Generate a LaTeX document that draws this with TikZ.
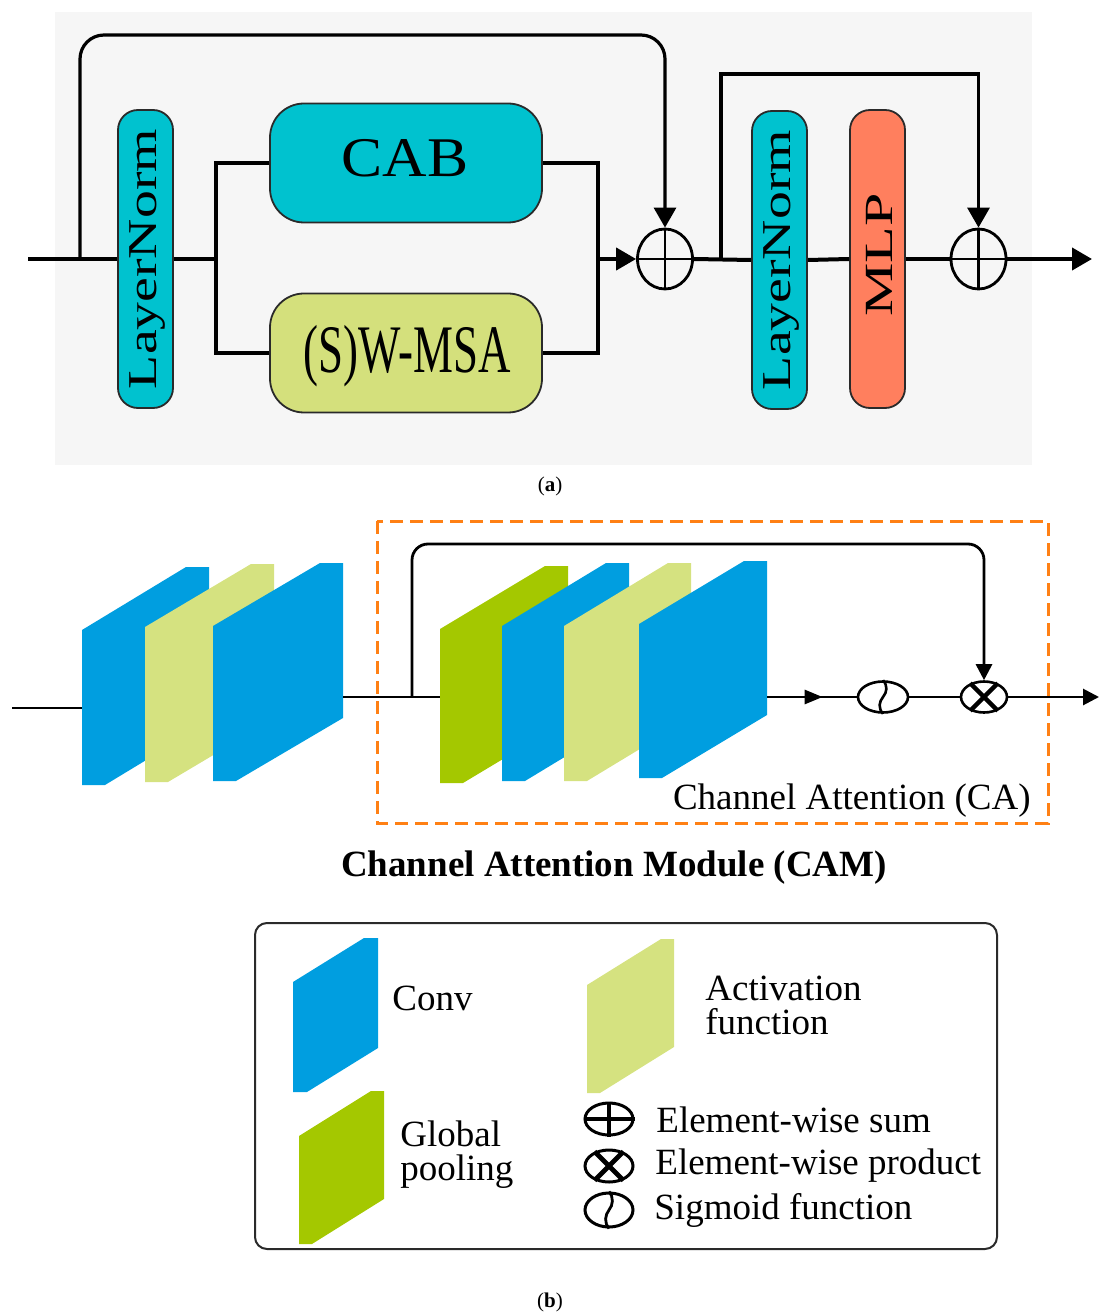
\documentclass[tikz,border=0pt]{standalone}
\usepackage{fontspec}
\usepackage{graphicx}
\setmainfont{Liberation Serif}
\usetikzlibrary{arrows.meta,shapes.geometric,decorations.markings}
\definecolor{bga}{HTML}{F6F6F6}
\definecolor{cyanbox}{HTML}{00C2CF}
\definecolor{msacol}{HTML}{D4E07C}
\definecolor{mlpcol}{HTML}{FF7F5E}
\definecolor{boxline}{HTML}{2A2A2A}
\definecolor{bluep}{HTML}{009EE0}
\definecolor{lgreenp}{HTML}{D5E280}
\definecolor{greenp}{HTML}{A4C800}
\definecolor{orangeb}{HTML}{FF8014}
\newcommand{\mypanel}[7]{\fill[#1] (#2,#4+#6) -- (#3-#7,#4) -- (#3,#4) -- (#3,#5-#6) -- (#2+#7,#5) -- (#2,#5) -- cycle;}
\tikzset{
  lnbox/.style={draw=boxline,line width=0.9pt,fill=cyanbox,rounded corners=10pt,minimum width=27.5pt,minimum height=149pt,inner sep=0pt},
  bigbox/.style={draw=boxline,line width=0.9pt,rounded corners=17pt,minimum width=136pt,minimum height=59.5pt,inner sep=0pt},
  sumnode/.style={draw=black,ellipse,line width=1.4pt,minimum width=27.5pt,minimum height=30pt,inner sep=0pt},
  mainln/.style={line width=2pt,draw=black,line join=miter},
  skipln/.style={line width=1.6pt,draw=black},
  arr/.style={-{Triangle[length=10pt,width=11pt]}},
  bln/.style={line width=1.4pt,draw=black},
  arrb/.style={-{Triangle[length=8pt,width=8pt]}},
  midarrow/.style={postaction={decorate},decoration={markings,mark=at position 0.62 with {\arrow{Triangle[length=9pt,width=7pt]}}}},
  opnode/.style={draw=black,ellipse,line width=1.3pt,inner sep=0pt},
  legtxt/.style={font=\fontsize{18.5}{17}\selectfont,anchor=west,align=left,inner sep=0pt},
}
\begin{document}
\begin{tikzpicture}[x=0.5pt,y=-0.5pt]
\useasboundingbox (0,0) rectangle (1100,1315);
% ---------------- (a) ----------------
\fill[bga] (55,12) rectangle (1032,465);
\node[lnbox] (ln1) at (145.5,259) {};
\node[bigbox,fill=cyanbox] (cab) at (406,163) {};
\node[bigbox,fill=msacol] (msa) at (406,353) {};
\node[sumnode] (sum1) at (665,259) {};
\node[lnbox] (ln2) at (779.5,260) {};
\node[lnbox,fill=mlpcol] (mlp) at (877.5,259) {};
\node[sumnode] (sum2) at (978.5,259) {};
\node[rotate=90,font=\fontsize{20.5}{22}\selectfont] (ln1t) at (147,259) {\scalebox{1.36}[1]{LayerNorm}};
\node[rotate=90,font=\fontsize{20.5}{22}\selectfont] (ln2t) at (781,260) {\scalebox{1.36}[1]{LayerNorm}};
\node[rotate=90,font=\fontsize{20}{22}\selectfont] (mlpt) at (879,255) {\scalebox{1.5}[1]{MLP}};
\node[font=\fontsize{28}{30}\selectfont] (cabt) at (405,158) {\scalebox{1.1}[1]{CAB}};
\node[font=\fontsize{34}{36}\selectfont] (msat) at (407,356) {\scalebox{0.66}[1]{(S)W-MSA}};
\coordinate (ain) at (28,259);
\coordinate (j1) at (80,259);
\coordinate (j2) at (216,259);
\coordinate (j3) at (598,259);
\coordinate (j4) at (721,259);
\coordinate (aout) at (1092,259);
\coordinate (top1) at (0,35);
\coordinate (top2) at (0,74);
\draw[mainln] (ain) -- (ln1.west);
\draw[mainln] (ln1.east) -- (j2);
\draw[mainln] (cab.west) -| (j2) |- (msa.west);
\draw[mainln] (cab.east) -| (j3) |- (msa.east);
\draw[mainln,arr] (j3) -- (sum1.west);
\draw[skipln,arr,rounded corners=12pt] (j1) -- (j1 |- top1) -| (sum1.north);
\draw[line width=1.4pt] (sum1.north) -- (sum1.south) (sum1.west) -- (sum1.east);
\draw[mainln] (sum1.east) -- (ln2.west);
\draw[skipln,arr] (j4) -- (j4 |- top2) -| (sum2.north);
\draw[mainln] (ln2.east) -- (mlp.west);
\draw[mainln] (mlp.east) -- (sum2.west);
\draw[line width=1.4pt] (sum2.north) -- (sum2.south) (sum2.west) -- (sum2.east);
\draw[mainln,arr] (sum2.east) -- (aout);
\node[font=\fontsize{10.5}{12}\selectfont] (capa) at (550,486) {(\textbf{a})};
% ---------------- (b) ----------------
\mypanel{bluep}{82}{209}{567}{785}{63}{23}
\mypanel{lgreenp}{145}{274}{564}{782}{63}{23}
\mypanel{bluep}{213}{343}{563}{781}{63}{23}
\mypanel{greenp}{440}{568}{566}{783}{63}{23}
\mypanel{bluep}{502}{629}{563}{781}{63}{23}
\mypanel{lgreenp}{564}{691}{563}{781}{63}{23}
\mypanel{bluep}{639}{767}{561}{778}{63}{23}
\draw[orangeb,line width=1.5pt,dash pattern=on 6.5pt off 3.5pt] (377,521) rectangle (1048,823);
\node[opnode,minimum width=25pt,minimum height=15.5pt] (sig) at (883,697) {};
\node[opnode,minimum width=23pt,minimum height=15.5pt] (mul) at (984,697) {};
\draw[line width=1.3pt] (sig.north) .. controls +(5,6) and +(4,-5) .. (sig.center) .. controls +(-4,5) and +(-5,-6) .. (sig.south);
\draw[line width=2.2pt] (mul.45) -- (mul.225) (mul.135) -- (mul.315);
\coordinate (bin) at (12,708);
\coordinate (p1w) at (82,708);
\coordinate (p3e) at (343,697);
\coordinate (p4w) at (440,697);
\coordinate (j5) at (412,697);
\coordinate (top3) at (0,544);
\coordinate (p7e) at (767,697);
\coordinate (bout) at (1099,697);
\draw[bln] (bin) -- (p1w);
\draw[bln] (p3e) -- (p4w);
\draw[bln,arrb,rounded corners=8pt] (j5) -- (j5 |- top3) -| (mul.north);
\draw[bln,midarrow] (p7e) -- (sig.west);
\draw[bln] (sig.east) -- (mul.west);
\draw[bln,arrb] (mul.east) -- (bout);
\node[font=\fontsize{18.5}{20}\selectfont,anchor=east,inner sep=0pt] (catext) at (1031,801) {Channel Attention (CA)};
\node[font=\fontsize{18.5}{20}\selectfont\bfseries] (cam) at (614,868) {Channel Attention Module (CAM)};
% legend
\draw[boxline,line width=1pt,rounded corners=6pt] (255,923) rectangle (997,1249);
\mypanel{bluep}{293}{378}{938}{1092}{44}{14}
\mypanel{lgreenp}{587}{674}{939}{1093}{46}{13}
\mypanel{greenp}{299}{384}{1091}{1244}{45}{13}
\node[legtxt] (lconv) at (392,998) {Conv};
\node[legtxt] (lact) at (705,1005) {Activation\\function};
\node[legtxt] (lgp) at (400,1155) {Global\\pooling};
\node[opnode,line width=1.5pt,minimum width=24pt,minimum height=16pt] (lsum) at (609,1119) {};
\draw[line width=2.2pt] (lsum.north) -- (lsum.south) (lsum.west) -- (lsum.east);
\node[opnode,line width=1.5pt,minimum width=24pt,minimum height=16pt] (lmul) at (609,1166) {};
\draw[line width=2.4pt] (lmul.45) -- (lmul.225) (lmul.135) -- (lmul.315);
\node[opnode,line width=1.5pt,minimum width=24pt,minimum height=17pt] (lsig) at (609,1210) {};
\draw[line width=1.4pt] (lsig.north) .. controls +(5,6) and +(4,-5) .. (lsig.center) .. controls +(-4,5) and +(-5,-6) .. (lsig.south);
\node[legtxt] (lsumt) at (656,1120) {Element-wise sum};
\node[legtxt] (lmult) at (655,1166) {Element-wise product};
\node[legtxt] (lsigt) at (654,1210) {Sigmoid function};
\node[font=\fontsize{10.5}{12}\selectfont] (capb) at (550,1302) {(\textbf{b})};
\end{tikzpicture}
\end{document}
